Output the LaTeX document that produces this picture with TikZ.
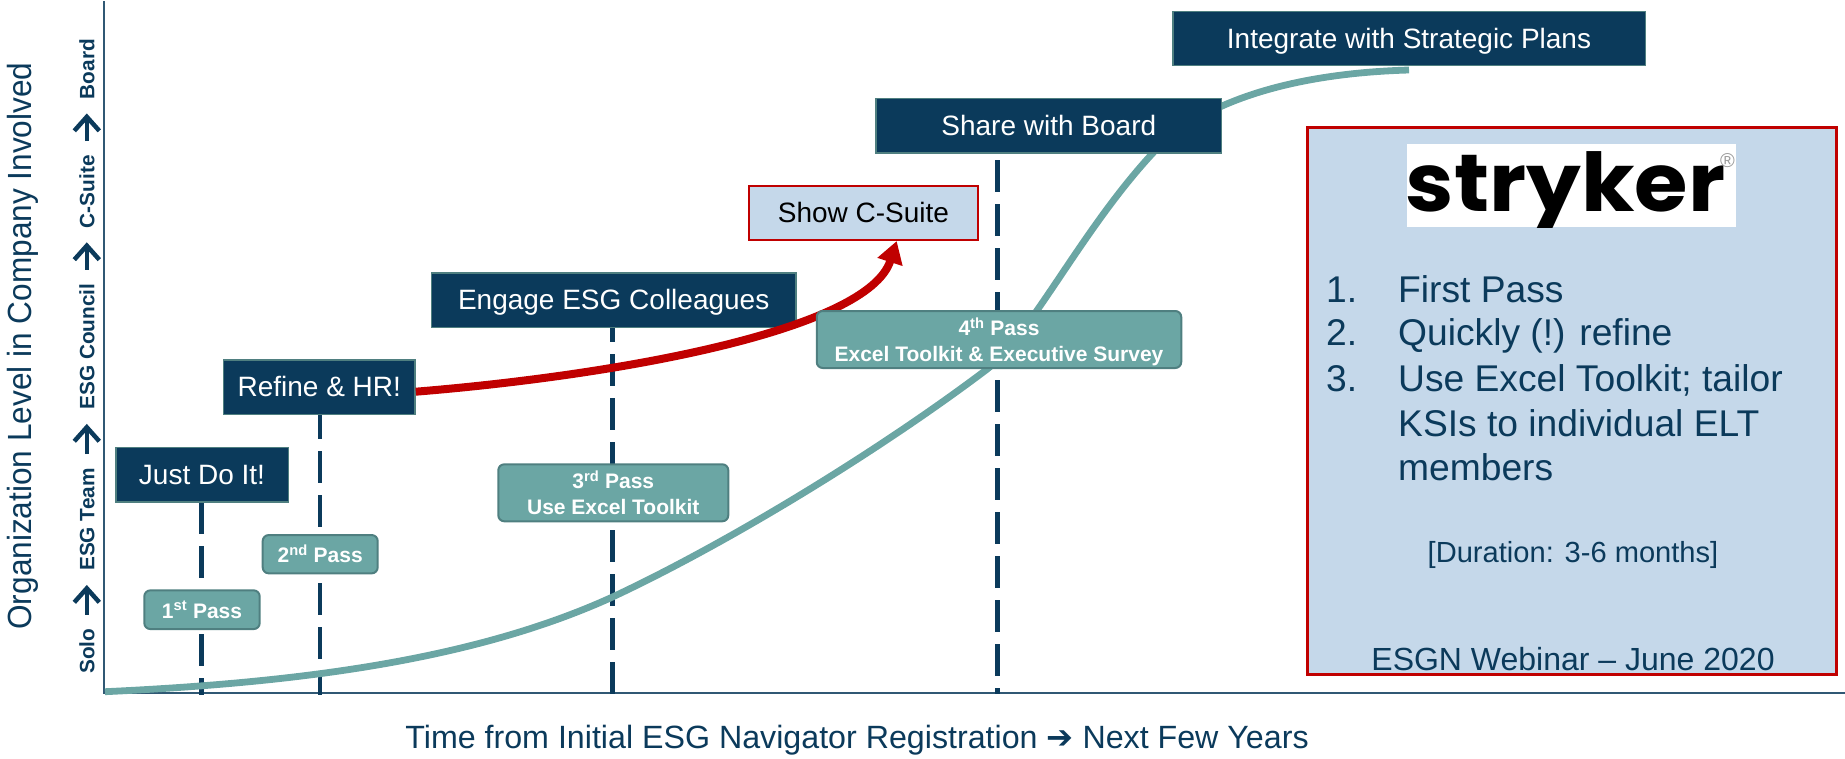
\documentclass[tikz,border=0pt]{standalone}
\usepackage{fontspec}
\setmainfont{Liberation Sans}
\newfontfamily\arrowfont{DejaVu Sans}
\newfontfamily\logofont{Poppins}
\usetikzlibrary{arrows.meta}
\definecolor{navy}{HTML}{0B3A5B}
\definecolor{teal2}{HTML}{6BA6A4}
\definecolor{tealdark}{HTML}{4F7F80}
\definecolor{pale}{HTML}{C5D8EA}
\definecolor{redd}{HTML}{C00000}
\newcommand{\fsz}[2][]{\fontsize{#2}{\ifx\relax#1\relax #2\else #1\fi}\selectfont}
\tikzset{
  x=1pt,y=-1pt,
  navybox/.style={draw=tealdark,line width=1.5pt,fill=navy,text=white,font=\fsz{28},inner sep=0pt,text height=19.5pt,text depth=0pt,anchor=center,align=center},
  passbox/.style={draw=tealdark,line width=2pt,fill=teal2,text=white,rounded corners=6pt,font=\fsz[26]{21}\bfseries,inner sep=0pt,text depth=0pt,anchor=center,align=center},
  passone/.style={passbox,text height=17pt},
  dashline/.style={draw=navy,line width=4.5pt,dash pattern=on 32pt off 12pt},
  axisline/.style={draw=navy!85!white,line width=1.5pt},
  levellabel/.style={text=navy,font=\fsz{20.8}\bfseries,rotate=90,inner xsep=14pt,inner ysep=0pt,text height=15pt,text depth=0pt},
  levelarrow/.style={draw=navy,line width=4.5pt,-{Straight Barb[length=14pt,width=25pt,line width=4.5pt]}},
  listtext/.style={text=navy,font=\fsz{37.2},anchor=base west,inner sep=0pt},
}
\begin{document}
\begin{tikzpicture}
\useasboundingbox (0,0) rectangle (1845,758);
% axes
\coordinate (origin) at (104,693);
\coordinate (ytop) at (104,1);
\coordinate (xend) at (1845,693);
\draw[axisline] (ytop) -- (origin) -- (xend);
% dashed drop lines
\coordinate (d1top) at (201.7,502);\coordinate (d1bot) at (201.7,695);
\coordinate (d2top) at (320,407);  \coordinate (d2bot) at (320,695);
\coordinate (d3top) at (612.3,310);\coordinate (d3bot) at (612.3,694);
\coordinate (d4top) at (997.5,160);\coordinate (d4bot) at (997.5,694);
\draw[dashline] (d1top) -- (d1bot);
\draw[dashline] (d2top) -- (d2bot);
\draw[dashline] (d3top) -- (d3bot);
\draw[dashline] (d4top) -- (d4bot);
% growth curve
\draw[teal2,line width=6.8pt] (105,691.7)
  .. controls (290,683) and (470,662) .. (612.5,597)
  .. controls (730,542) and (880,450) .. (986,370)
  .. controls (1030,337) and (1080,232) .. (1152,154)
  .. controls (1190,112) and (1270,74) .. (1409,70);
% navy boxes
\node[navybox,minimum width=172.5pt,minimum height=54.5pt] (just) at (202,474.7) {Just Do It!};
\node[navybox,minimum width=191.5pt,minimum height=54.2pt] (refine) at (319.3,387.2) {Refine \& HR!};
\node[navybox,minimum width=364.5pt,minimum height=54.8pt] (engage) at (613.7,300.2) {Engage ESG Colleagues};
\node[navybox,minimum width=345.5pt,minimum height=54.5pt] (share) at (1048.8,125.7) {Share with Board};
\node[navybox,minimum width=472.5pt,minimum height=54pt] (integrate) at (1409,38.3) {Integrate with Strategic Plans};
\node[draw=redd,line width=2pt,fill=pale,text=black,font=\fsz{28},inner sep=0pt,text height=19.5pt,text depth=0pt,minimum width=229.5pt,minimum height=54.5pt] (csuite) at (863.5,213) {Show C-Suite};
% red arrow
\coordinate (rstart) at ([yshift=-4.5pt]refine.east);
\coordinate (rend) at (896.7,241);
\draw[redd,line width=8pt,-{Triangle[length=22pt,width=25pt]}] (rstart)
  .. controls (620,375) and (868,330) .. (rend);
% pass boxes
\node[passone,minimum width=115.4pt,minimum height=38.7pt] (p1) at (202,609.7) {1\textsuperscript{st} Pass};
\node[passone,minimum width=115pt,minimum height=38.3pt] (p2) at (320.2,554.2) {2\textsuperscript{nd} Pass};
\node[passbox,minimum width=230pt,minimum height=57pt] (p3) at (613.3,492.8) {3\textsuperscript{rd} Pass\\Use Excel Toolkit};
\node[passbox,minimum width=364.5pt,minimum height=57pt] (p4) at (999,339.5) {4\textsuperscript{th} Pass\\Excel Toolkit \& Executive Survey};
% axis titles
\node[rotate=90,anchor=base,text=navy,inner sep=0pt] (ytitle) at (31,346) {\scalebox{0.943}[1]{\fsz{33.5}Organization Level in Company Involved}};
\node[levellabel] (solo) at (86.8,651.3) {Solo};
\node[levellabel] (team) at (86.8,519.5) {ESG Team};
\node[levellabel] (council) at (86.8,346.7) {ESG Council};
\node[levellabel] (suite) at (86.8,191.7) {C-Suite};
\node[levellabel] (board) at (86.8,69.2) {Board};
\draw[levelarrow] (solo) -- (team);
\draw[levelarrow] (team) -- (council);
\draw[levelarrow] (council) -- (suite);
\draw[levelarrow] (suite) -- (board);
\node[text=navy,font=\fsz{32.2},inner sep=0pt] (xtitle) at (857,740) {Time from Initial ESG Navigator Registration {\arrowfont\symbol{"2794}} Next Few Years};
% right panel
\node[draw=redd,line width=2.6pt,fill=pale,inner sep=0pt,minimum width=529.5pt,minimum height=547.5pt] (panel) at (1572,401) {};
\node[fill=white,inner sep=0pt,minimum width=329pt,minimum height=83pt] (logobg) at (1571.5,185.4) {};
\begin{scope}
\clip (logobg.south west) rectangle (logobg.north east);
\node[inner sep=0pt,anchor=base] (logo) at (1565.5,211.7) {\scalebox{1.07}[1]{\logofont\fsz{81}\bfseries stryker}\rlap{\kern-5pt\raisebox{44pt}{\color{gray!80}\fsz{20}\normalfont\textregistered}}};
\end{scope}
\node[listtext] (n1) at (1326,302) {1.};
\node[listtext] (t1) at (1398,302) {First Pass};
\node[listtext] (n2) at (1326,345.7) {2.};
\node[listtext] (t2) at (1398,345.7) {Quickly (!) refine};
\node[listtext] (n3) at (1326,391) {3.};
\node[listtext] (t3) at (1398,391) {Use Excel Toolkit; tailor};
\node[listtext] (t4) at (1398,436) {KSIs to individual ELT};
\node[listtext] (t5) at (1398,480.7) {members};
\node[text=navy,font=\fsz{29.1},inner sep=0pt,anchor=base] (dur) at (1573,562.7) {[Duration: 3-6 months]};
\node[text=navy,font=\fsz{32},inner sep=0pt,anchor=base] (webinar) at (1573,670.7) {ESGN Webinar – June 2020};
\end{tikzpicture}
\end{document}
